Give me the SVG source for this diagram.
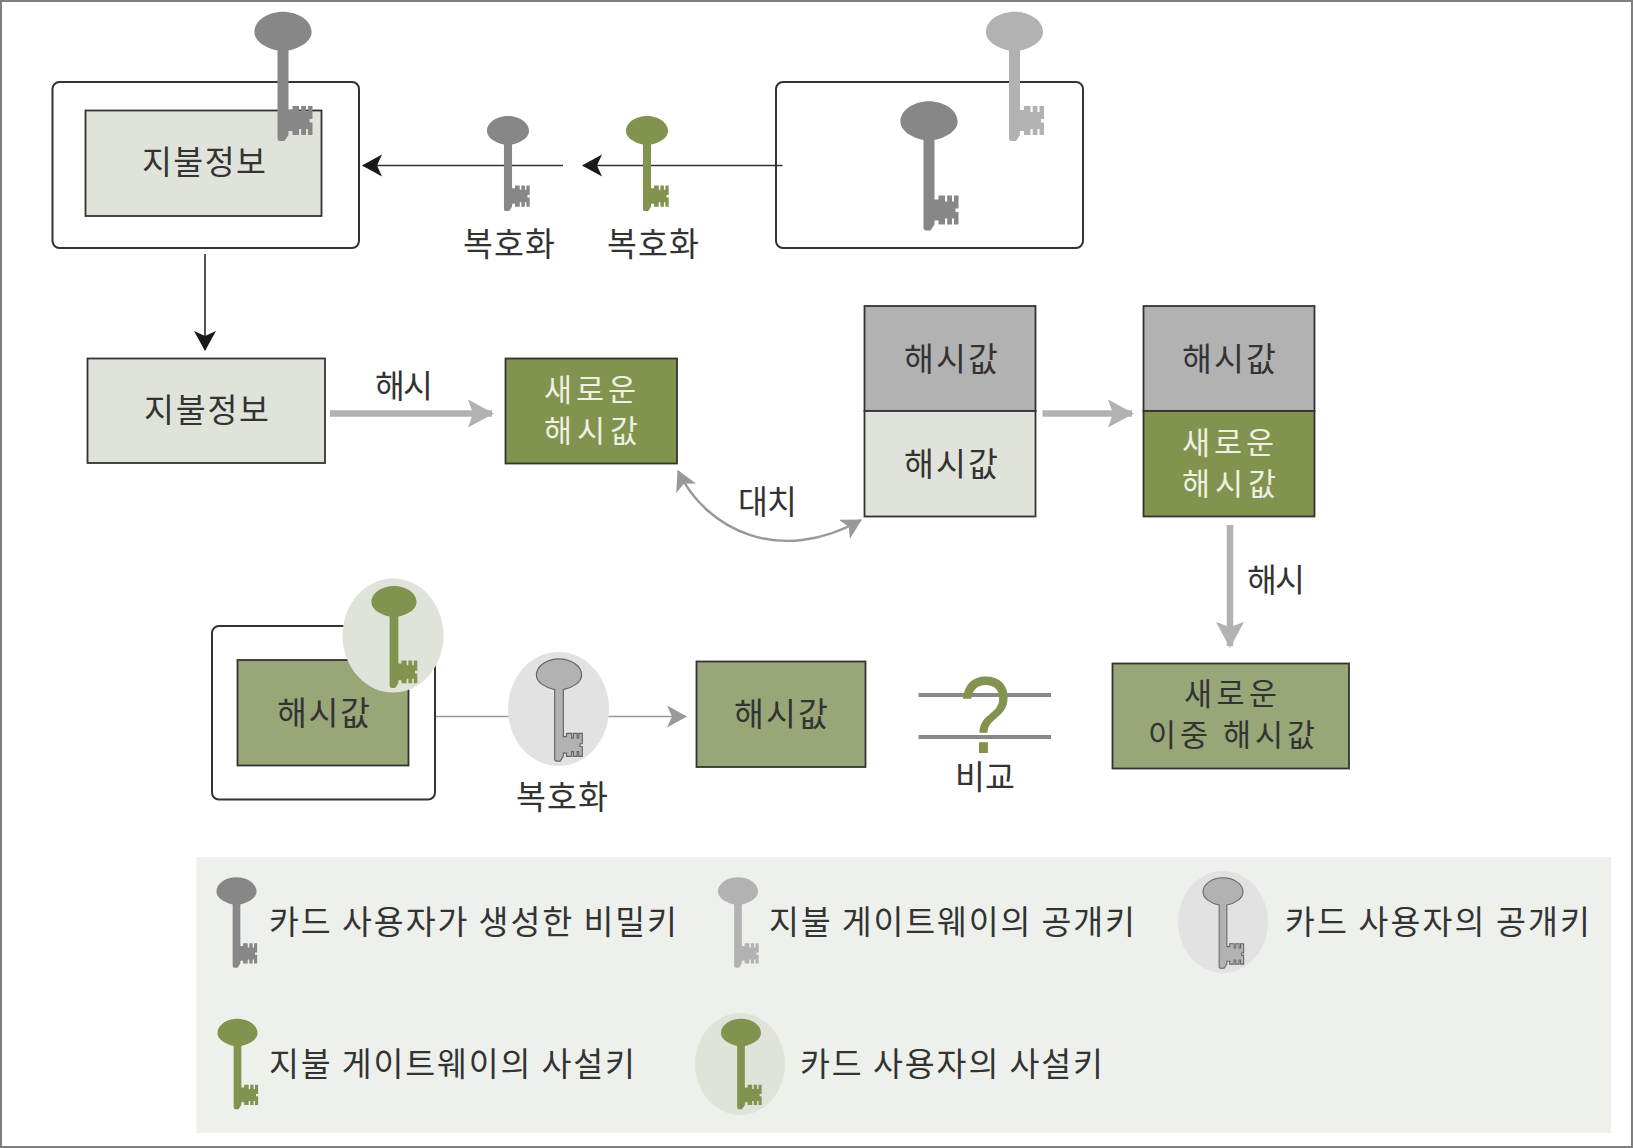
<svg xmlns="http://www.w3.org/2000/svg" xmlns:xlink="http://www.w3.org/1999/xlink" width="1633" height="1148" viewBox="0 0 1633 1148">
<style>
text{font-family:"Noto Sans CJK KR","Noto Sans",sans-serif;font-size:32.500px;fill:#333}
text.two{font-size:30.500px}
.w{fill:#eef0e2}
.frame{fill:#fff;stroke:#333;stroke-width:2}
.box{stroke:#333;stroke-width:1.800}
.pale{fill:#e0e3da}
.green{fill:#82934f}
.olive{fill:#98a678}
.grey{fill:#b2b2b2}
.blk{stroke:#333;stroke-width:1.700;fill:none}
.gl{stroke:#b2b2b2;stroke-width:6.500;fill:none}
.gt{stroke:#999;stroke-width:1.700;fill:none}
</style>
<defs>
<path id="k" d="M-5.500 18.500C-17 16-28.600 9.500-28.600 0-28.600-11.500-15-20.300 0-20.300S28.600-11.500 28.600 0C28.600 9.500 17 16 5.500 18.500V78H9.500V74H16V80H18.200V74H23V80H25V74H29.500V87H26.500V90.500H29.500V103H25V97H23V103H18.200V97H16V103H9.500V99H5.500V103L1.500 109H-3Q-5.500 109-5.500 106Z"/>
<marker id="ab" markerUnits="userSpaceOnUse" markerWidth="24" markerHeight="26" refX="19" refY="11" orient="auto"><path d="M0 0L20 11L0 22L5 11Z" fill="#1a1a1a"/></marker>
<marker id="ag" markerUnits="userSpaceOnUse" markerWidth="30" markerHeight="32" refX="24" refY="14" orient="auto"><path d="M0 0L26 14L0 28L5 14Z" fill="#b2b2b2"/></marker>
<marker id="at" markerUnits="userSpaceOnUse" markerWidth="24" markerHeight="26" refX="19" refY="11" orient="auto"><path d="M0 0L20 11L0 22L5 11Z" fill="#999"/></marker>
<marker id="ac" markerUnits="userSpaceOnUse" markerWidth="24" markerHeight="26" refX="19" refY="11" orient="auto-start-reverse"><path d="M0 0L20 11L0 22L5 11Z" fill="#999"/></marker>
</defs>
<rect id="border" x="1" y="1" width="1631" height="1146" fill="#fff" stroke="#808080" stroke-width="2"/>
<g id="legend-bg"><rect x="196.500" y="857" width="1414.500" height="276" fill="#eef0ec"/></g>

<g id="signed-payment">
<rect class="frame" x="52.500" y="82" width="306.500" height="166" rx="7"/>
<rect class="box pale" x="85.500" y="110.500" width="236" height="105.500"/>
<use xlink:href="#k" x="283" y="32" fill="#878787"/>
<text x="142" y="173.500" textLength="124">지불정보</text>
</g>
<g id="envelope">
<rect class="frame" x="776" y="82" width="307" height="166" rx="7"/>
<use xlink:href="#k" x="1014.500" y="32" fill="#b2b2b2"/>
<use xlink:href="#k" x="929" y="121.500" fill="#878787"/>
</g>

<g id="connectors">
<path class="blk" d="M563 165.500H363" marker-end="url(#ab)"/>
<path class="blk" d="M782.500 165.500H583" marker-end="url(#ab)"/>
<path class="blk" d="M205 254V350" marker-end="url(#ab)"/>
<path class="gl" d="M330 413.500H492" marker-end="url(#ag)"/>
<path class="gl" d="M1042.500 413.500H1132" marker-end="url(#ag)"/>
<path class="gl" d="M1230 525V646" marker-end="url(#ag)"/>
<path d="M678 471C706 530 780 566 861 520" fill="none" stroke="#999" stroke-width="2.400" marker-start="url(#ac)" marker-end="url(#ac)"/>
<path class="gt" d="M435 716.500H686" marker-end="url(#at)"/>
</g>

<g id="decrypt1"><use xlink:href="#k" transform="translate(508 131) scale(.735)" fill="#878787"/><text x="463" y="255.500" textLength="92">복호화</text></g>
<g id="decrypt2"><use xlink:href="#k" transform="translate(647 131) scale(.735)" fill="#82934f"/><text x="607" y="255.500" textLength="92">복호화</text></g>

<g id="payment"><rect class="box pale" x="87.500" y="358.500" width="237.500" height="104.500"/><text x="144" y="421.500" textLength="125">지불정보</text></g>
<g id="hash-label1"><text x="375" y="397.500" textLength="58">해시</text></g>
<g id="new-hash"><rect class="box green" x="505.500" y="358.500" width="171.500" height="105"/><text class="w two" x="544" y="401" textLength="92">새로운</text><text class="w two" x="544" y="442" textLength="94">해시값</text></g>
<g id="swap-label"><text x="738" y="513.500" textLength="59">대치</text></g>
<g id="stack1"><rect class="box" fill="#b2b2b2" x="864.500" y="306" width="171" height="105"/><rect class="box pale" x="864.500" y="411" width="171" height="105.500"/><text x="904" y="370.500" textLength="94">해시값</text><text x="904" y="475.500" textLength="94">해시값</text></g>
<g id="stack2"><rect class="box" fill="#b2b2b2" x="1143.500" y="306" width="171" height="105"/><rect class="box green" x="1143.500" y="411" width="171" height="105.500"/><text x="1182" y="370.500" textLength="94">해시값</text><text class="w two" x="1182" y="454" textLength="92">새로운</text><text class="w two" x="1182" y="495" textLength="94">해시값</text></g>
<g id="hash-label2"><text x="1247" y="591.500" textLength="58">해시</text></g>

<g id="signed-hash"><rect class="frame" x="212" y="626" width="223" height="173.500" rx="7"/><rect class="box olive" x="237.500" y="660" width="171" height="105.500"/><text x="277" y="724.500" textLength="93">해시값</text><ellipse class="pale" cx="393" cy="635.500" rx="50.500" ry="57"/><use xlink:href="#k" transform="translate(394 602) scale(.79)" fill="#82934f"/></g>
<g id="decrypt3"><ellipse cx="558.500" cy="709" rx="50.500" ry="57" fill="#e2e2e2"/><use xlink:href="#k" transform="translate(559 675) scale(.79)" fill="#b2b2b2" stroke="#666" stroke-width="1.500"/><text x="516" y="808.500" textLength="92">복호화</text></g>
<g id="hash3"><rect class="box olive" x="696.500" y="661.500" width="169" height="105.500"/><text x="734" y="725.500" textLength="94">해시값</text></g>
<g id="compare"><path d="M918.500 695H1051M918.500 737H1051" stroke="#888" stroke-width="4" fill="none"/><text transform="translate(985 753) scale(.85 1)" text-anchor="middle" style="font-family:'Liberation Sans',sans-serif;font-size:110px;fill:#82934f">?</text><text x="955" y="788.500" textLength="60">비교</text></g>
<g id="double-hash"><rect class="box olive" x="1112.500" y="663.500" width="236.500" height="105"/><text class="two" x="1184" y="705" textLength="93">새로운</text><text class="two" x="1148" y="746" textLength="167">이중 해시값</text></g>

<g id="legend">
<g id="l1"><use xlink:href="#k" transform="translate(236.500 891.500) scale(.7)" fill="#878787"/><text x="269" y="933.500" textLength="408">카드 사용자가 생성한 비밀키</text></g>
<g id="l2"><use xlink:href="#k" transform="translate(738 891.500) scale(.7)" fill="#b2b2b2"/><text x="769" y="933.500" textLength="366">지불 게이트웨이의 공개키</text></g>
<g id="l3"><ellipse cx="1223" cy="922" rx="45" ry="51" fill="#e2e2e2"/><use xlink:href="#k" transform="translate(1223 892) scale(.7)" fill="#b2b2b2" stroke="#666" stroke-width="1.500"/><text x="1285" y="933.500" textLength="305">카드 사용자의 공개키</text></g>
<g id="l4"><use xlink:href="#k" transform="translate(237.500 1033) scale(.7)" fill="#82934f"/><text x="269" y="1075.500" textLength="366">지불 게이트웨이의 사설키</text></g>
<g id="l5"><ellipse class="pale" cx="740" cy="1064" rx="45" ry="51"/><use xlink:href="#k" transform="translate(741 1033) scale(.7)" fill="#82934f"/><text x="800" y="1075.500" textLength="303">카드 사용자의 사설키</text></g>
</g>
</svg>
